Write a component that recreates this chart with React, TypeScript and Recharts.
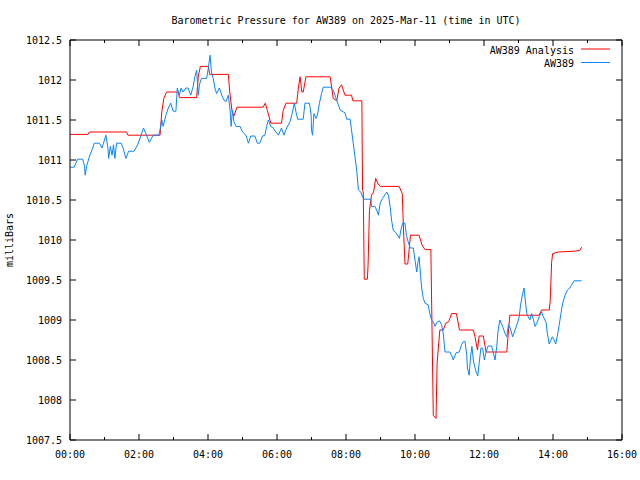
import React from 'react';
import { LineChart, Line, XAxis, YAxis, Legend } from 'recharts';

const TITLE = 'Barometric Pressure for AW389 on 2025-Mar-11 (time in UTC)';
const Y_LABEL = 'milliBars';
const SERIES_ANALYSIS = 'AW389 Analysis';
const SERIES_OBS = 'AW389';

const xTicks = [0, 1, 2, 3, 4, 5, 6, 7, 8, 9, 10, 11, 12, 13, 14, 15, 16];
const yTicks = [1007.5, 1008, 1008.5, 1009, 1009.5, 1010, 1010.5, 1011, 1011.5, 1012, 1012.5];

// time in hours (UTC)
const analysisTimes = [
  0.0, 0.52, 0.56, 1.64, 1.68, 2.61, 2.66, 2.72, 2.8, 3.14, 3.17, 3.67, 3.72, 3.78, 4.01, 4.05, 4.59,
  4.63, 4.7, 4.75, 4.84, 5.6, 5.66, 5.72, 5.82, 6.13, 6.18, 6.26, 6.57, 6.62, 6.67, 6.72, 6.76, 6.84,
  7.54, 7.63, 7.73, 7.8, 7.87, 7.97, 8.16, 8.2, 8.46, 8.48, 8.5, 8.53, 8.62, 8.64, 8.68, 8.74, 8.8,
  8.86, 8.93, 9.0, 9.54, 9.63, 9.67, 9.71, 9.79, 9.83, 9.87, 10.12, 10.2, 10.29, 10.46, 10.49, 10.53,
  10.61, 10.64, 10.72, 10.82, 10.89, 10.98, 11.06, 11.2, 11.29, 11.69, 11.74, 11.81, 11.86, 11.98,
  12.06, 12.66, 12.72, 12.75, 13.6, 13.67, 13.89, 13.92, 13.94, 13.96, 13.99, 14.15, 14.61, 14.78, 14.83,
];
const analysisValues = [
  1011.32, 1011.32, 1011.35, 1011.35, 1011.31, 1011.31, 1011.6, 1011.77, 1011.85, 1011.85, 1011.78,
  1011.78, 1012.05, 1012.17, 1012.17, 1012.07, 1012.07, 1011.85, 1011.6, 1011.55, 1011.66, 1011.66,
  1011.71, 1011.62, 1011.46, 1011.46, 1011.62, 1011.71, 1011.71, 1011.9, 1012.04, 1011.85, 1011.85,
  1012.04, 1012.04, 1011.77, 1011.74, 1011.9, 1011.94, 1011.81, 1011.81, 1011.74, 1011.74, 1010.62,
  1010.6, 1009.51, 1009.51, 1009.69, 1010.37, 1010.56, 1010.6, 1010.77, 1010.7, 1010.67, 1010.67,
  1010.58, 1010.1, 1009.7, 1009.7, 1009.88, 1010.06, 1010.06, 1009.94, 1009.88, 1009.88, 1009.0,
  1007.81, 1007.77, 1008.46, 1008.875, 1008.875, 1008.96, 1008.98, 1009.08, 1009.08, 1008.875,
  1008.875, 1008.79, 1008.625, 1008.8, 1008.8, 1008.6, 1008.6, 1008.92, 1009.06, 1009.06, 1009.125,
  1009.125, 1009.24, 1009.48, 1009.72, 1009.83, 1009.85, 1009.86, 1009.87, 1009.91,
];

const obsTimes = [
  0.0, 0.12, 0.22, 0.37, 0.42, 0.44, 0.48, 0.56, 0.66, 0.7, 0.85, 0.93, 0.97, 1.04, 1.1, 1.12, 1.17,
  1.22, 1.26, 1.3, 1.35, 1.48, 1.54, 1.62, 1.7, 1.86, 1.96, 2.06, 2.13, 2.2, 2.3, 2.41, 2.57, 2.61,
  2.66, 2.7, 2.78, 2.85, 2.92, 2.99, 3.07, 3.11, 3.17, 3.22, 3.28, 3.36, 3.42, 3.5, 3.57, 3.62, 3.67,
  3.72, 3.75, 3.81, 3.96, 4.01, 4.06, 4.1, 4.15, 4.2, 4.25, 4.33, 4.4, 4.46, 4.52, 4.59, 4.64, 4.67,
  4.71, 4.75, 4.81, 4.93, 5.0, 5.1, 5.17, 5.24, 5.36, 5.43, 5.5, 5.58, 5.65, 5.7, 5.75, 5.82, 5.89,
  5.97, 6.04, 6.13, 6.2, 6.28, 6.38, 6.44, 6.5, 6.55, 6.6, 6.76, 6.81, 6.94, 6.99, 7.0, 7.03, 7.07,
  7.13, 7.17, 7.23, 7.29, 7.34, 7.54, 7.63, 7.71, 7.78, 7.83, 7.97, 8.02, 8.12, 8.16, 8.21, 8.26,
  8.31, 8.36, 8.43, 8.48, 8.52, 8.72, 8.74, 8.84, 8.91, 8.94, 8.99, 9.06, 9.18, 9.23, 9.28, 9.32,
  9.37, 9.45, 9.55, 9.59, 9.64, 9.71, 9.75, 9.8, 9.86, 9.95, 10.0, 10.05, 10.09, 10.12, 10.16, 10.2,
  10.24, 10.29, 10.38, 10.43, 10.48, 10.53, 10.58, 10.63, 10.71, 10.77, 10.82, 10.87, 11.01, 11.06,
  11.11, 11.19, 11.28, 11.35, 11.4, 11.45, 11.5, 11.52, 11.57, 11.61, 11.65, 11.69, 11.74, 11.79,
  11.82, 11.86, 11.91, 11.96, 12.01, 12.06, 12.12, 12.22, 12.27, 12.32, 12.37, 12.41, 12.46, 12.54,
  12.61, 12.66, 12.71, 12.76, 12.83, 12.9, 12.97, 13.02, 13.06, 13.12, 13.16, 13.19, 13.24, 13.28,
  13.33, 13.38, 13.43, 13.48, 13.53, 13.6, 13.67, 13.72, 13.8, 13.83, 13.89, 13.93, 13.98, 14.03,
  14.08, 14.12, 14.18, 14.23, 14.28, 14.35, 14.42, 14.49, 14.54, 14.61, 14.83,
];
const obsValues = [
  1010.91, 1010.91, 1011.01, 1011.01, 1010.92, 1010.81, 1010.92, 1011.04, 1011.15, 1011.21, 1011.21,
  1011.15, 1011.21, 1011.31, 1011.15, 1011.02, 1011.17, 1011.06, 1011.19, 1011.02, 1011.21, 1011.21,
  1011.15, 1011.02, 1011.11, 1011.11, 1011.19, 1011.31, 1011.4, 1011.33, 1011.22, 1011.31, 1011.31,
  1011.375, 1011.5, 1011.42, 1011.56, 1011.65, 1011.71, 1011.61, 1011.61, 1011.9, 1011.81, 1011.9,
  1011.85, 1011.9, 1011.9, 1011.81, 1011.92, 1012.04, 1012.125, 1011.81, 1011.94, 1012.02, 1012.02,
  1012.15, 1012.31, 1012.1, 1012.02, 1011.9, 1011.83, 1011.9, 1011.81, 1011.75, 1011.73, 1011.81,
  1011.625, 1011.42, 1011.625, 1011.48, 1011.42, 1011.42, 1011.35, 1011.31, 1011.21, 1011.3, 1011.3,
  1011.21, 1011.21, 1011.3, 1011.31, 1011.42, 1011.5, 1011.42, 1011.4, 1011.35, 1011.31, 1011.4,
  1011.31, 1011.4, 1011.48, 1011.58, 1011.71, 1011.6, 1011.51, 1011.51, 1011.71, 1011.71, 1011.56,
  1011.375, 1011.31, 1011.58, 1011.52, 1011.56, 1011.71, 1011.83, 1011.91, 1011.91, 1011.875,
  1011.77, 1011.69, 1011.625, 1011.59, 1011.51, 1011.51, 1011.375, 1011.21, 1011.04, 1010.875,
  1010.625, 1010.6, 1010.54, 1010.51, 1010.51, 1010.42, 1010.42, 1010.35, 1010.31, 1010.46, 1010.52,
  1010.6, 1010.56, 1010.42, 1010.25, 1010.12, 1010.09, 1010.02, 1010.125, 1010.21, 1010.21, 1010.06,
  1009.98, 1009.9, 1009.9, 1009.75, 1009.6, 1009.73, 1009.79, 1009.56, 1009.375, 1009.27, 1009.21,
  1009.19, 1009.08, 1009.0, 1008.98, 1008.92, 1008.97, 1008.99, 1008.94, 1008.83, 1008.6, 1008.6,
  1008.56, 1008.5, 1008.59, 1008.6, 1008.69, 1008.73, 1008.73, 1008.56, 1008.4, 1008.31, 1008.54,
  1008.67, 1008.5, 1008.4, 1008.33, 1008.3, 1008.46, 1008.65, 1008.65, 1008.5, 1008.6, 1008.675,
  1008.675, 1008.59, 1008.5, 1008.67, 1008.875, 1009.0, 1008.92, 1008.83, 1008.79, 1008.94, 1008.9,
  1008.79, 1008.875, 1008.96, 1009.04, 1009.19, 1009.33, 1009.4, 1009.27, 1009.08, 1009.04, 1009.0,
  1009.08, 1009.01, 1008.92, 1008.96, 1009.04, 1009.1, 1009.04, 1008.97, 1008.85, 1008.7, 1008.74,
  1008.79, 1008.75, 1008.7, 1008.79, 1008.94, 1009.08, 1009.21, 1009.31, 1009.375, 1009.4, 1009.44,
  1009.49, 1009.49,
];

const analysisData = analysisTimes.map((t, i) => ({ t, v: analysisValues[i] }));
const obsData = obsTimes.map((t, i) => ({ t, v: obsValues[i] }));

const RED = '#ff0000';
const BLUE = '#0a84ff';
const FONT = '"DejaVu Sans Mono", "Liberation Mono", monospace';
const FS = 10;

const fmtHour = (h: number) => `${String(h).padStart(2, '0')}:00`;
const fmtY = (v: number) => (Number.isInteger(v) ? String(v) : v.toFixed(1));

const BottomTick = (props: any) => {
  const { x, y, payload } = props;
  const major = payload.value % 2 === 0;
  return (
    <g>
      <line x1={x} x2={x} y1={y} y2={y - (major ? 6 : 3)} stroke="#000" strokeWidth={1} />
      {major && (
        <text x={x} y={y + 18} textAnchor="middle" fontFamily={FONT} fontSize={FS} fill="#000">
          {fmtHour(payload.value)}
        </text>
      )}
    </g>
  );
};

const TopTick = (props: any) => {
  const { x, y, payload } = props;
  const major = payload.value % 2 === 0;
  return <line x1={x} x2={x} y1={y} y2={y + (major ? 6 : 3)} stroke="#000" strokeWidth={1} />;
};

const LeftTick = (props: any) => {
  const { x, y, payload } = props;
  return (
    <g>
      <line x1={x} x2={x + 6} y1={y} y2={y} stroke="#000" strokeWidth={1} />
      <text x={x - 8} y={y + 3.5} textAnchor="end" fontFamily={FONT} fontSize={FS} fill="#000">
        {fmtY(payload.value)}
      </text>
    </g>
  );
};

const RightTick = (props: any) => {
  const { x, y } = props;
  return <line x1={x} x2={x - 6} y1={y} y2={y} stroke="#000" strokeWidth={1} />;
};

const TitleLabel = () => (
  <text x={346} y={24} textAnchor="middle" fontFamily={FONT} fontSize={FS} fill="#000">
    {TITLE}
  </text>
);

const YTitle = () => (
  <text
    x={13}
    y={240}
    transform="rotate(-90 13 240)"
    textAnchor="middle"
    fontFamily={FONT}
    fontSize={FS}
    fill="#000"
  >
    {Y_LABEL}
  </text>
);

const KeyContent = () => (
  <svg width={150} height={32} style={{ display: 'block' }}>
    <text x={104} y={11.5} textAnchor="end" fontFamily={FONT} fontSize={FS} fill="#000">
      {SERIES_ANALYSIS}
    </text>
    <line x1={111} x2={140} y1={7} y2={7} stroke={RED} strokeWidth={1} />
    <text x={104} y={25} textAnchor="end" fontFamily={FONT} fontSize={FS} fill="#000">
      {SERIES_OBS}
    </text>
    <line x1={111} x2={140} y1={20.5} y2={20.5} stroke={BLUE} strokeWidth={1} />
  </svg>
);

export default function App() {
  return (
    <div style={{ position: 'absolute', left: 0, top: 0, width: 640, height: 480, background: '#fff' }}>
      <LineChart width={640} height={480} margin={{ top: 10, right: 8, bottom: 10, left: 8 }}>
        <XAxis
          xAxisId="bottom"
          orientation="bottom"
          type="number"
          dataKey="t"
          domain={[0, 16]}
          allowDataOverflow
          ticks={xTicks}
          interval={0}
          height={30}
          tickSize={0}
          tickMargin={0}
          tickLine={false}
          axisLine={{ stroke: '#000' }}
          tick={<BottomTick />}
        />
        <XAxis
          xAxisId="top"
          orientation="top"
          type="number"
          dataKey="t"
          domain={[0, 16]}
          allowDataOverflow
          ticks={xTicks}
          interval={0}
          height={30}
          tickSize={0}
          tickMargin={0}
          tickLine={false}
          axisLine={{ stroke: '#000' }}
          tick={<TopTick />}
          label={{ content: TitleLabel }}
        />
        <YAxis
          yAxisId="left"
          orientation="left"
          type="number"
          domain={[1007.5, 1012.5]}
          allowDataOverflow
          ticks={yTicks}
          interval={0}
          width={62}
          tickSize={0}
          tickMargin={0}
          tickLine={false}
          axisLine={{ stroke: '#000' }}
          tick={<LeftTick />}
          label={{ content: YTitle }}
        />
        <YAxis
          yAxisId="right"
          orientation="right"
          type="number"
          domain={[1007.5, 1012.5]}
          allowDataOverflow
          ticks={yTicks}
          interval={0}
          width={10}
          tickSize={0}
          tickMargin={0}
          tickLine={false}
          axisLine={{ stroke: '#000' }}
          tick={<RightTick />}
        />
        <Legend
          layout="horizontal"
          verticalAlign="middle"
          align="center"
          content={<KeyContent />}
          wrapperStyle={{ position: 'absolute', left: 470, top: 42, width: 150, height: 32 }}
        />
        <Line
          name={SERIES_ANALYSIS}
          data={analysisData}
          dataKey="v"
          xAxisId="bottom"
          yAxisId="left"
          type="linear"
          stroke={RED}
          strokeWidth={1}
          dot={false}
          activeDot={false}
          isAnimationActive={false}
        />
        <Line
          name={SERIES_OBS}
          data={obsData}
          dataKey="v"
          xAxisId="bottom"
          yAxisId="left"
          type="linear"
          stroke={BLUE}
          strokeWidth={1}
          dot={false}
          activeDot={false}
          isAnimationActive={false}
        />
      </LineChart>
    </div>
  );
}
